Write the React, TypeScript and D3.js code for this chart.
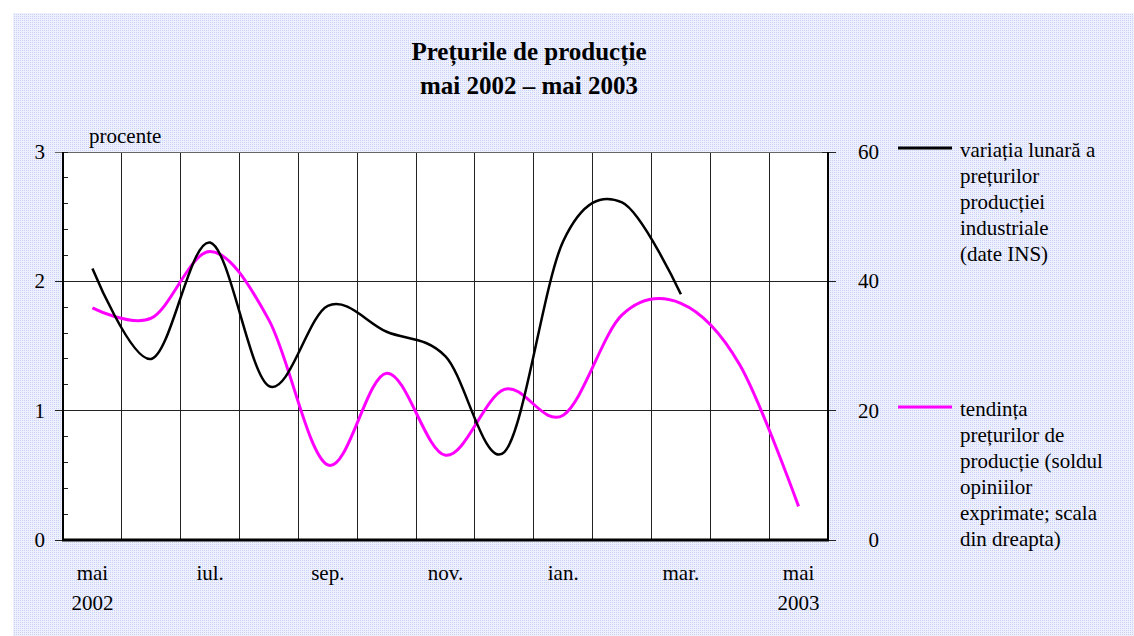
import React, { useEffect, useRef } from "react";
import * as d3 from "d3";

// months on the x axis (mai 2002 .. mai 2003)
const months = ["mai02", "iun02", "iul02", "aug02", "sep02", "oct02", "nov02", "dec02", "ian03", "feb03", "mar03", "apr03", "mai03"];
const monthLabels = ["mai", "", "iul.", "", "sep.", "", "nov.", "", "ian.", "", "mar.", "", "mai"];
const yearLabels = ["2002", "", "", "", "", "", "", "", "", "", "", "", "2003"];

// monthly variation of industrial producer prices (%, left scale)
const variatie = [2.1, 1.4, 2.3, 1.19, 1.81, 1.61, 1.42, 0.68, 2.31, 2.61, 1.9];
// producer price trend, balance of opinions (right scale)
const tendinta = [35.9, 34.3, 44.6, 34.0, 11.6, 25.8, 13.1, 23.3, 19.3, 34.8, 36.6, 27.1, 5.2];

const leftTicks = [0, 1, 2, 3];
const rightTicks = [0, 20, 40, 60];

const legend1 = ["variația lunară a", "prețurilor", "producției", "industriale", "(date INS)"];
const legend2 = ["tendința", "prețurilor de", "producție (soldul", "opiniilor", "exprimate; scala", "din dreapta)"];

const W = 1134;
const H = 636;
const font = "'Liberation Serif', 'Times New Roman', serif";

export default function App() {
  const ref = useRef<SVGSVGElement>(null);

  useEffect(() => {
    const svg = d3.select(ref.current);
    svg.selectAll("*").remove();

    const margin = { left: 63, right: 828, top: 152, bottom: 540 };

    // background pattern
    const defs = svg.append("defs");
    const pat = defs
      .append("pattern")
      .attr("id", "bgdots")
      .attr("width", 2)
      .attr("height", 2)
      .attr("patternUnits", "userSpaceOnUse");
    pat.append("rect").attr("width", 2).attr("height", 2).attr("fill", "#eef0fd");
    pat.append("rect").attr("width", 1).attr("height", 1).attr("fill", "#c9d1f7");

    svg
      .append("rect")
      .attr("x", 13)
      .attr("y", 13)
      .attr("width", W - 13)
      .attr("height", H - 13)
      .attr("fill", "url(#bgdots)");

    const x = d3.scaleBand().domain(months).range([margin.left, margin.right]);
    const xc = (i: number) => (x(months[i]) as number) + x.bandwidth() / 2;
    const yL = d3.scaleLinear().domain([0, 3]).range([margin.bottom, margin.top]);
    const yR = d3.scaleLinear().domain([0, 60]).range([margin.bottom, margin.top]);

    // plot area
    svg
      .append("rect")
      .attr("x", margin.left)
      .attr("y", margin.top)
      .attr("width", margin.right - margin.left)
      .attr("height", margin.bottom - margin.top)
      .attr("fill", "white");

    const grid = svg.append("g").attr("shape-rendering", "crispEdges");
    // vertical gridlines at month boundaries
    months.slice(1).forEach((m) => {
      grid
        .append("line")
        .attr("x1", x(m) as number)
        .attr("x2", x(m) as number)
        .attr("y1", margin.top)
        .attr("y2", margin.bottom)
        .attr("stroke", "#222")
        .attr("stroke-width", 1);
    });
    // horizontal gridlines
    leftTicks.slice(1).forEach((t) => {
      grid
        .append("line")
        .attr("x1", margin.left - 8)
        .attr("x2", margin.right + 8)
        .attr("y1", yL(t))
        .attr("y2", yL(t))
        .attr("stroke", t === 3 ? "#666" : "#222")
        .attr("stroke-width", 1);
    });
    // minor ticks on left axis
    d3.range(0, 3.01, 0.2).forEach((t) => {
      grid
        .append("line")
        .attr("x1", margin.left)
        .attr("x2", margin.left + 5)
        .attr("y1", yL(t))
        .attr("y2", yL(t))
        .attr("stroke", "#222");
    });
    // major ticks on right axis (crossing)
    rightTicks.forEach((t) => {
      grid
        .append("line")
        .attr("x1", margin.right - 6)
        .attr("x2", margin.right + 8)
        .attr("y1", yR(t))
        .attr("y2", yR(t))
        .attr("stroke", "#222");
    });
    grid
      .append("line")
      .attr("x1", margin.left - 8)
      .attr("x2", margin.left)
      .attr("y1", yL(0))
      .attr("y2", yL(0))
      .attr("stroke", "#222");

    // axes lines
    svg
      .append("line")
      .attr("x1", margin.left)
      .attr("x2", margin.left)
      .attr("y1", margin.top)
      .attr("y2", margin.bottom)
      .attr("stroke", "black")
      .attr("stroke-width", 2);
    svg
      .append("line")
      .attr("x1", margin.right)
      .attr("x2", margin.right)
      .attr("y1", margin.top)
      .attr("y2", margin.bottom)
      .attr("stroke", "black")
      .attr("stroke-width", 2);
    svg
      .append("line")
      .attr("x1", margin.left - 1)
      .attr("x2", margin.right + 1)
      .attr("y1", margin.bottom)
      .attr("y2", margin.bottom)
      .attr("stroke", "black")
      .attr("stroke-width", 3);

    // tick labels
    const txt = svg.append("g").attr("font-family", font).attr("font-size", 21).attr("fill", "black");
    leftTicks.forEach((t) => {
      txt.append("text").attr("x", 45).attr("y", yL(t) + 7).attr("text-anchor", "end").text(t);
    });
    rightTicks.forEach((t) => {
      txt.append("text").attr("x", 879).attr("y", yR(t) + 7).attr("text-anchor", "end").text(t);
    });
    months.forEach((m, i) => {
      if (monthLabels[i]) {
        txt.append("text").attr("x", xc(i)).attr("y", 580).attr("text-anchor", "middle").text(monthLabels[i]);
      }
      if (yearLabels[i]) {
        txt.append("text").attr("x", xc(i)).attr("y", 610).attr("text-anchor", "middle").text(yearLabels[i]);
      }
    });
    txt.append("text").attr("x", 89).attr("y", 143).text("procente");

    // title
    const title = svg
      .append("g")
      .attr("font-family", font)
      .attr("font-size", 25)
      .attr("font-weight", "bold")
      .attr("text-anchor", "middle");
    title.append("text").attr("x", 529).attr("y", 60).text("Prețurile de producție");
    title.append("text").attr("x", 529).attr("y", 94).text("mai 2002 – mai 2003");

    // series
    const curve = d3.curveCatmullRom.alpha(0);
    const lineL = d3
      .line<number>()
      .x((d, i) => xc(i))
      .y((d) => yL(d))
      .curve(curve);
    const lineR = d3
      .line<number>()
      .x((d, i) => xc(i))
      .y((d) => yR(d))
      .curve(curve);

    svg
      .append("path")
      .attr("d", lineR(tendinta))
      .attr("fill", "none")
      .attr("stroke", "#ff00ff")
      .attr("stroke-width", 3);
    svg
      .append("path")
      .attr("d", lineL(variatie))
      .attr("fill", "none")
      .attr("stroke", "black")
      .attr("stroke-width", 2.5);

    // legend
    const drawLegend = (lines: string[], color: string, y0: number) => {
      svg
        .append("line")
        .attr("x1", 898)
        .attr("x2", 952)
        .attr("y1", y0 - 9)
        .attr("y2", y0 - 9)
        .attr("stroke", color)
        .attr("stroke-width", 3);
      lines.forEach((l, i) => {
        txt.append("text").attr("x", 960).attr("y", y0 + i * 26).text(l);
      });
    };
    drawLegend(legend1, "black", 157);
    drawLegend(legend2, "#ff00ff", 416);
  }, []);

  return (
    <div style={{ position: "absolute", left: 0, top: 0 }}>
      <svg ref={ref} width={W} height={H} style={{ display: "block" }} />
    </div>
  );
}
